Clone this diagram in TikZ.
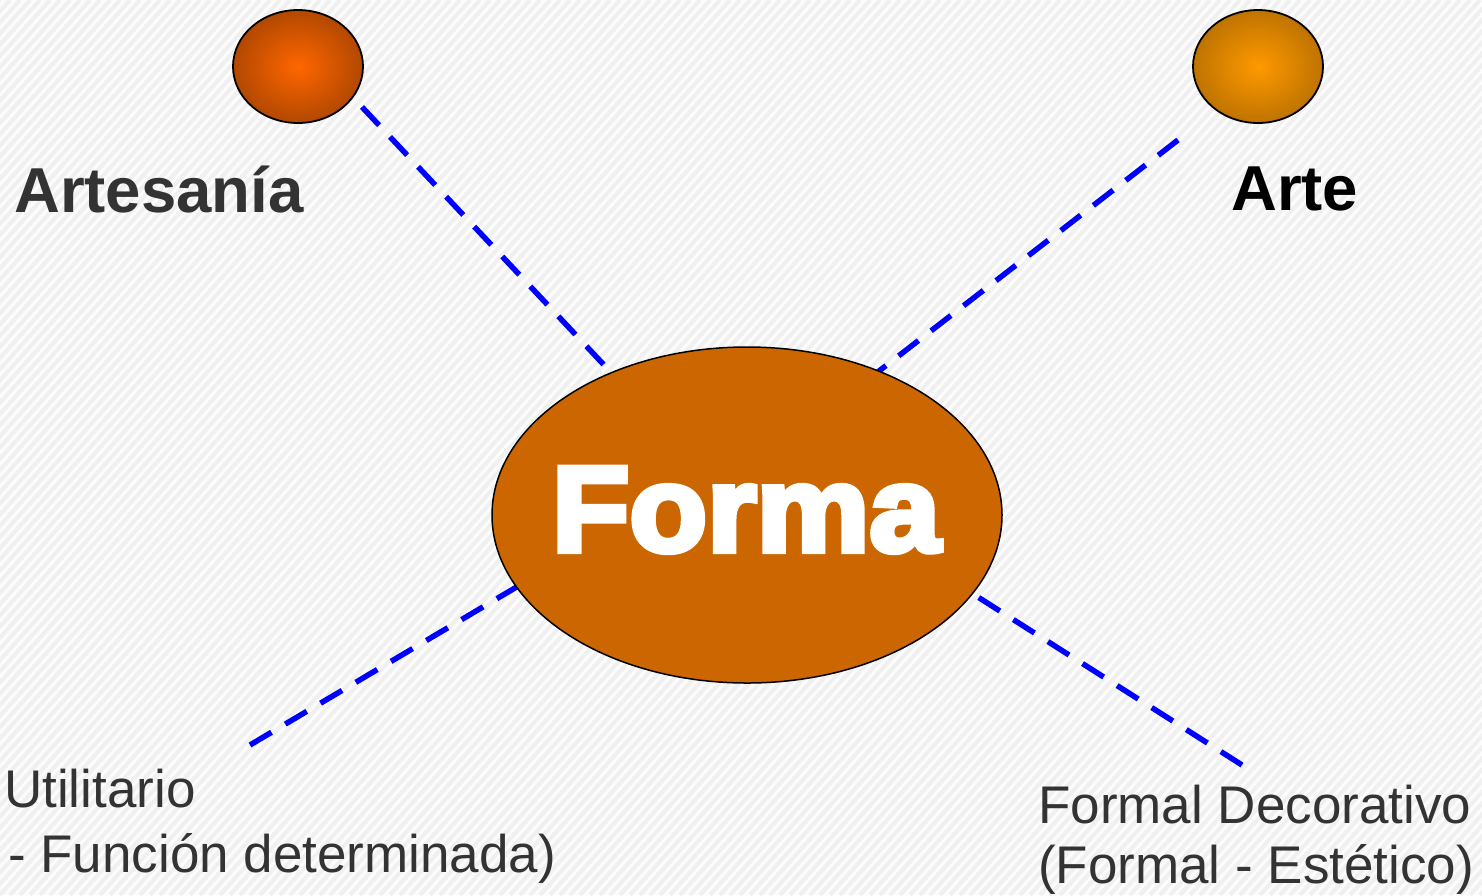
\documentclass[tikz,border=0pt]{standalone}
\usepackage{fontspec}
\setmainfont{Liberation Sans}
\newfontfamily\heavyfont[FakeBold=5,FakeStretch=1.05]{Liberation Sans Bold}
\usetikzlibrary{shapes.geometric}
\definecolor{txtgray}{HTML}{333333}
\definecolor{formafill}{HTML}{CC6600}
\definecolor{stripe}{HTML}{F0F0F0}
\begin{document}
\begin{tikzpicture}[x=1pt,y=-1pt,
  ball/.style={ellipse,draw=black,line width=1.8pt,minimum width=130pt,minimum height=113pt,inner sep=0pt},
  link/.style={draw=blue,line width=5.5pt,dash pattern=on 25pt off 16pt},
  lbl/.style={inner sep=0pt,anchor=base west,font=\fontsize{53}{60}\selectfont,text=txtgray},
  title/.style={inner sep=0pt,anchor=base west,font=\fontsize{63.5}{70}\selectfont\bfseries}]
\useasboundingbox (0,0) rectangle (1482,895);
\fill[white!98!gray] (0,0) rectangle (1482,895);
\begin{scope}
\clip (0,0) rectangle (1482,895);
\foreach \k in {-800,-790,...,1480} {
  \draw[stripe,line width=4pt] (\k,895) -- ++(800,-895);
}
\end{scope}
% free ends
\coordinate (p1) at (362,107);
\coordinate (q1) at (620,382);
\coordinate (p2) at (1178,140);
\coordinate (q2) at (870,378);
\coordinate (p3) at (250,745);
\coordinate (q3) at (525,582);
\coordinate (p4) at (1242,765);
\coordinate (q4) at (970,592);
\draw[link] (p1) -- (q1);
\draw[link] (p2) -- (q2);
\draw[link] (p3) -- (q3);
\draw[link] (p4) -- (q4);
\node[ball,inner color={rgb,255:red,255;green,102;blue,0},outer color={rgb,255:red,178;green,72;blue,0}] (c1) at (298,66.5) {};
\node[ball,inner color={rgb,255:red,255;green,153;blue,0},outer color={rgb,255:red,190;green,115;blue,0}] (c2) at (1258,66.5) {};
\node[ellipse,draw=black,line width=1.5pt,fill=formafill,minimum width=510pt,minimum height=336pt,inner sep=0pt] (forma) at (747,515) {};
\node[inner sep=0pt,anchor=base,text=white,font=\fontsize{121}{130}\heavyfont] (fl) at (746,551) {Forma};
\node[title,text=txtgray] (t1) at (14,212) {Artesanía};
\node[title,text=black] (t2) at (1231,210) {Arte};
\node[lbl] (u1) at (4,807) {Utilitario};
\node[lbl] (u2) at (8,872) {- Función determinada)};
\node[lbl] (f1) at (1038,823) {Formal Decorativo};
\node[lbl] (f2) at (1038,883) {(Formal - Estético)};
\end{tikzpicture}
\end{document}
